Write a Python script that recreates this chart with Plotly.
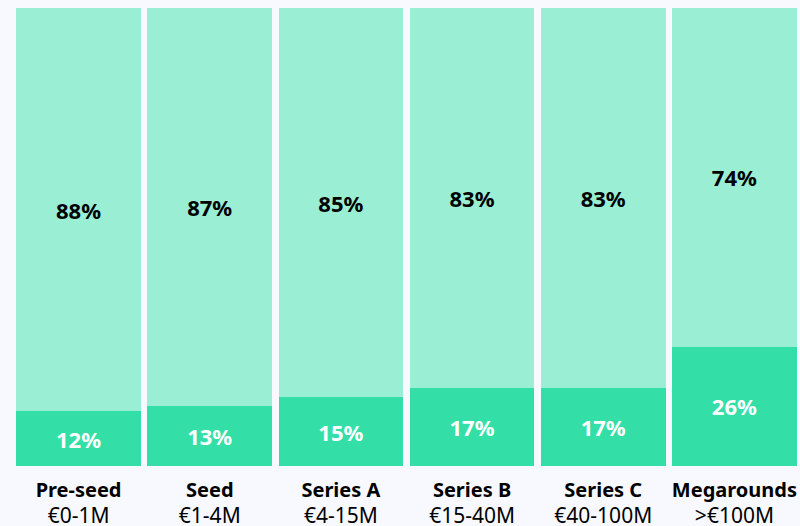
import plotly.graph_objects as go

categories = ["Pre-seed", "Seed", "Series A", "Series B", "Series C", "Megarounds"]
ranges = ["€0-1M", "€1-4M", "€4-15M", "€15-40M", "€40-100M", ">€100M"]
bottom_vals = [12, 13, 15, 17, 17, 26]
top_vals = [88, 87, 85, 83, 83, 74]

ticktext = [f"<b>{c}</b><br><span style='font-size:21px'>{r}</span>" for c, r in zip(categories, ranges)]

fig = go.Figure()
fig.add_trace(go.Bar(
    x=categories, y=bottom_vals,
    marker=dict(color="#34DFA7", line=dict(width=0)),
    text=[f"{v}%" for v in bottom_vals],
    textposition="inside", insidetextanchor="middle",
    textfont=dict(family="Noto Sans", size=22, color="white", weight="bold"),
    hoverinfo="skip",
))
fig.add_trace(go.Bar(
    x=categories, y=top_vals,
    marker=dict(color="#9AEED4", line=dict(width=0)),
    text=[f"{v}%" for v in top_vals],
    textposition="inside", insidetextanchor="middle",
    textfont=dict(family="Noto Sans", size=22, color="black", weight="bold"),
    hoverinfo="skip",
))

fig.update_layout(
    barmode="stack",
    bargap=0.05,
    width=800, height=526,
    margin=dict(l=13, r=0, t=8, b=60),
    paper_bgcolor="#F8F9FE",
    plot_bgcolor="#F8F9FE",
    showlegend=False,
    uniformtext=dict(minsize=8, mode="show"),
    font=dict(family="Noto Sans", color="black"),
)
fig.update_xaxes(
    tickmode="array", tickvals=categories, ticktext=ticktext,
    tickfont=dict(family="Noto Sans", size=20, color="black"),
    showgrid=False, zeroline=False, showline=False, ticks="",
    automargin=False, ticklabelstandoff=10,
)
fig.update_yaxes(range=[0, 100], visible=False, showgrid=False, zeroline=False, automargin=False)

fig.write_html(
    "out.html",
    config={"displayModeBar": False},
    post_script="document.body.style.margin='0';document.body.style.overflow='hidden';",
)
